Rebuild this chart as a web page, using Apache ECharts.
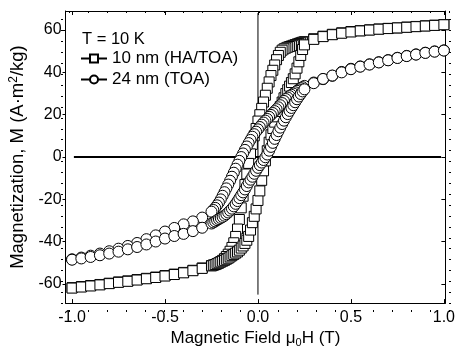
<!DOCTYPE html>
<html><head><meta charset="utf-8">
<script src="https://cdn.jsdelivr.net/npm/echarts@6/dist/echarts.min.js"></script>
<style>html,body{margin:0;padding:0;background:#fff}#c{width:458px;height:353px}</style>
</head><body><div id="c"></div>
<script>
// Field values, descending sweep (T)
const fieldDown = [1.0,0.95,0.9,0.85,0.8,0.75,0.7,0.65,0.6,0.55,0.5,0.45,0.4,0.35,0.3,
  0.25,0.24,0.23,0.22,0.21,0.2,0.19,0.18,0.17,0.16,0.15,0.14,0.13,0.12,0.11,0.1,0.09,0.08,0.07,0.06,0.05,0.04,0.03,0.02,0.01,0.0,
  -0.01,-0.02,-0.03,-0.04,-0.05,-0.06,-0.07,-0.08,-0.09,-0.1,-0.11,-0.12,-0.13,-0.14,-0.15,-0.16,-0.17,-0.18,-0.19,-0.2,-0.21,-0.22,-0.23,-0.24,-0.25,
  -0.3,-0.35,-0.4,-0.45,-0.5,-0.55,-0.6,-0.65,-0.7,-0.75,-0.8,-0.85,-0.9,-0.95,-1.0];
// Field values, ascending sweep (T)
const fieldUp = [-1.0,-0.95,-0.9,-0.85,-0.8,-0.75,-0.7,-0.65,-0.6,-0.55,-0.5,-0.45,-0.4,-0.35,-0.3,
  -0.25,-0.24,-0.23,-0.22,-0.21,-0.2,-0.19,-0.18,-0.17,-0.16,-0.15,-0.14,-0.13,-0.12,-0.11,-0.1,-0.09,-0.08,-0.07,-0.06,-0.05,-0.04,-0.03,-0.02,-0.01,0.0,
  0.01,0.02,0.03,0.04,0.05,0.06,0.07,0.08,0.09,0.1,0.11,0.12,0.13,0.14,0.15,0.16,0.17,0.18,0.19,0.2,0.21,0.22,0.23,0.24,0.25,
  0.3,0.35,0.4,0.45,0.5,0.55,0.6,0.65,0.7,0.75,0.8,0.85,0.9,0.95,1.0];

// 10 nm (HA/TOA) magnetization (A·m²/kg)
const sqDown = [62.6,62.3,62.0,61.7,61.4,61.0,60.8,60.5,60.1,59.7,59.3,58.7,58.0,57.1,55.9,
  54.5,54.3,54.0,53.7,53.4,53.1,52.8,52.5,52.2,51.9,51.5,51.1,50.5,49.5,48.0,46.0,43.5,41.0,38.5,35.5,32.5,29.2,26.0,23.0,20.0,17.0,
  13.5,10.0,6.0,1.5,-3.0,-8.0,-13.0,-18.5,-24.0,-29.5,-34.0,-37.5,-40.5,-42.7,-44.5,-45.9,-47.0,-48.0,-48.8,-49.4,-50.0,-50.4,-50.8,-51.0,-51.3,
  -52.4,-53.5,-54.5,-55.3,-56.0,-56.7,-57.3,-57.9,-58.5,-59.0,-59.6,-60.2,-60.7,-61.2,-61.7];
const sqUp = [-61.9,-61.4,-60.9,-60.4,-59.8,-59.2,-58.7,-58.1,-57.5,-56.9,-56.2,-55.5,-54.7,-53.7,-52.6,
  -51.4,-51.1,-50.8,-50.4,-50.0,-49.6,-49.2,-48.8,-48.3,-47.8,-47.2,-46.6,-46.0,-45.4,-44.8,-44.0,-43.0,-42.0,-40.8,-39.3,-37.5,-34.5,-31.0,-28.0,-24.5,-20.5,
  -16.0,-11.0,-6.5,-1.8,3.0,7.0,10.5,13.5,16.5,19.0,21.5,23.8,26.0,28.0,30.0,31.8,33.5,35.2,37.0,39.3,42.0,45.0,48.0,50.8,53.0,
  55.6,56.9,57.8,58.5,59.1,59.6,60.0,60.4,60.7,61.0,61.3,61.6,61.9,62.2,62.5];

// 24 nm (TOA) magnetization (A·m²/kg)
const ciDown = [50.4,49.9,49.3,48.5,47.8,46.9,45.8,44.8,43.8,42.8,41.7,40.2,38.4,36.8,35.2,
  33.6,33.0,32.5,31.9,31.3,30.6,30.0,29.4,28.8,28.1,27.4,26.5,25.5,24.5,23.5,22.6,21.7,20.8,19.9,19.0,18.0,17.2,16.3,15.3,14.2,13.1,
  12.0,10.8,9.6,8.1,6.6,5.0,3.4,1.7,0.0,-1.8,-3.6,-5.5,-7.4,-9.3,-11.2,-13.0,-14.8,-16.6,-18.3,-20.0,-21.5,-22.8,-24.0,-25.0,-25.8,
  -28.6,-30.4,-31.8,-33.5,-35.2,-37.0,-38.8,-40.6,-42.0,-43.3,-44.5,-45.6,-46.6,-47.5,-48.3];
const ciUp = [-48.5,-47.9,-47.2,-46.4,-45.6,-44.7,-43.6,-42.5,-41.3,-39.9,-38.5,-37.3,-36.3,-35.0,-33.4,
  -31.4,-30.9,-30.4,-29.8,-29.3,-28.8,-28.3,-27.7,-27.0,-26.2,-25.3,-24.4,-23.3,-22.1,-20.8,-19.4,-18.0,-16.7,-15.3,-13.7,-12.0,-10.7,-9.3,-7.9,-6.5,-5.1,
  -3.8,-2.6,-1.4,-0.1,1.2,3.0,4.8,6.7,8.6,10.4,12.2,13.9,15.6,17.2,18.8,20.3,21.8,23.2,24.5,25.9,27.3,28.6,29.8,31.0,32.0,
  34.9,36.9,38.5,40.0,41.5,42.7,43.7,44.7,45.7,46.8,47.7,48.4,49.2,49.8,50.3];

const seriesNames = ['10 nm (HA/TOA)', '24 nm (TOA)'];
const xMajor = [-1.0,-0.5,0.0,0.5,1.0];
const xMinor = [-1.0,-0.9,-0.8,-0.7,-0.6,-0.5,-0.4,-0.3,-0.2,-0.1,0.0,0.1,0.2,0.3,0.4,0.5,0.6,0.7,0.8,0.9,1.0];
const yMajor = [-60,-40,-20,0,20,40,60];
const yMinor = [-65,-60,-55,-50,-45,-40,-35,-30,-25,-20,-15,-10,-5,0,5,10,15,20,25,30,35,40,45,50,55,60,65];
const zeroH = [[-0.99,0],[0.985,0]];
const zeroV = [[0,-65],[0,68]];

const FONT = '"Liberation Sans", Arial, sans-serif';
const X_MIN = -1.035, X_MAX = 1.008, Y_MIN = -69, Y_MAX = 69;

function loop(h1, m1, h2, m2) {
  const d = [];
  for (let i = 0; i < h1.length; i++) d.push([h1[i], m1[i]]);
  for (let i = 0; i < h2.length; i++) d.push([h2[i], m2[i]]);
  return d;
}

const blk = {color:'#000', width:1};
function xAx(grid, pos, ticks, len, labels, extra) {
  return Object.assign({
    type:'value', gridIndex:grid, position:pos, min:X_MIN, max:X_MAX,
    axisLine:{show:grid===0, onZero:false, lineStyle:blk},
    axisTick:{show:true, inside:true, length:len, customValues:ticks, lineStyle:blk},
    axisLabel:{show:labels, customValues:xMajor, formatter:v=>v.toFixed(1), fontSize:16, color:'#000', fontFamily:FONT, margin:6},
    splitLine:{show:false}
  }, extra||{});
}
function yAx(grid, pos, ticks, len, inside, labels, extra) {
  return Object.assign({
    type:'value', gridIndex:grid, position:pos, min:Y_MIN, max:Y_MAX,
    axisLine:{show:grid===0, onZero:false, lineStyle:blk},
    axisTick:{show:true, inside:inside, length:len, customValues:ticks, lineStyle:blk},
    axisLabel:{show:labels, customValues:yMajor, fontSize:16, color:'#000', fontFamily:FONT, margin:4},
    splitLine:{show:false}
  }, extra||{});
}

const gridBox = {left:63, right:7, top:11, bottom:41};
const option = {
  animation:false,
  backgroundColor:'#fff',
  textStyle:{fontFamily:FONT},
  grid:[Object.assign({}, gridBox), Object.assign({}, gridBox)],
  title:{text:'T = 10 K', left:82, top:31, padding:0,
    textStyle:{fontSize:16.5, fontWeight:'normal', color:'#000', fontFamily:FONT}},
  legend:{orient:'vertical', left:80, top:50, padding:0, itemWidth:26, itemHeight:10, itemGap:4,
    data:seriesNames,
    textStyle:{fontSize:17, color:'#000', fontFamily:FONT},
    lineStyle:{color:'#000', width:2, opacity:1}},
  xAxis:[
    xAx(0,'bottom',xMajor,4,true,{
      name:'Magnetic Field μ{sub|0}H (T)', nameLocation:'middle', nameGap:24,
      nameTextStyle:{fontSize:17, color:'#000', fontFamily:FONT,
        rich:{sub:{fontSize:11, fontFamily:FONT, color:'#000', padding:[8,0,0,0]}}}
    }),
    xAx(0,'top',xMajor,4,false),
    xAx(1,'bottom',xMinor,2,false),
    xAx(1,'top',xMinor,2,false)
  ],
  yAxis:[
    yAx(0,'left',yMajor,3,false,true,{
      name:'Magnetization, M (A·m{sup|2}/kg)', nameLocation:'middle', nameGap:37,
      nameTextStyle:{fontSize:18.5, color:'#000', fontFamily:FONT,
        rich:{sup:{fontSize:12, fontFamily:FONT, color:'#000', padding:[0,0,8,0]}}}
    }),
    yAx(0,'right',yMajor,4,true,false),
    yAx(1,'left',yMinor,2,false,false),
    yAx(1,'right',yMinor,2,true,false)
  ],
  series:[
    {type:'line', name:'zeroH', xAxisIndex:0, yAxisIndex:0, data:zeroH, symbol:'none', silent:true, z:1,
      lineStyle:{color:'#000', width:2}},
    {type:'line', name:'zeroV', xAxisIndex:0, yAxisIndex:0, data:zeroV, symbol:'none', silent:true, z:1,
      lineStyle:{color:'#000', width:1}},
    {type:'line', name:seriesNames[0], xAxisIndex:0, yAxisIndex:0, data:loop(fieldDown, sqDown, fieldUp, sqUp),
      symbol:'rect', symbolSize:10, showAllSymbol:true, z:3, clip:false,
      lineStyle:{opacity:0},
      itemStyle:{color:'#fff', borderColor:'#000', borderWidth:1}},
    {type:'line', name:seriesNames[1], xAxisIndex:0, yAxisIndex:0, data:loop(fieldDown, ciDown, fieldUp, ciUp),
      symbol:'circle', symbolSize:11, showAllSymbol:true, z:4, clip:false,
      lineStyle:{opacity:0},
      itemStyle:{color:'#fff', borderColor:'#000', borderWidth:1}}
  ]
};
const chart = echarts.init(document.getElementById('c'), null, {renderer:'canvas'});
chart.setOption(option);
</script></body></html>
